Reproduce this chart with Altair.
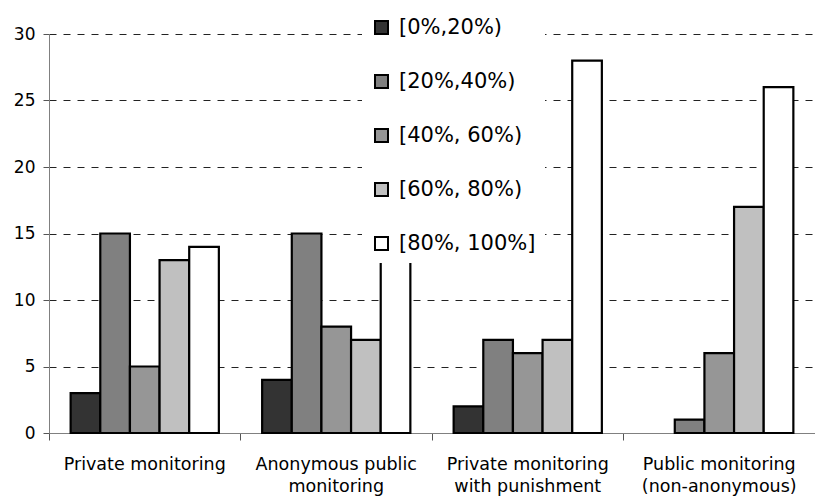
import altair as alt
import pandas as pd

categories = ["Private monitoring", "Anonymous public|monitoring",
              "Private monitoring|with punishment", "Public monitoring|(non-anonymous)"]
series = ["[0%,20%)", "[20%,40%)", "[40%, 60%)", "[60%, 80%)", "[80%, 100%]"]
colors = ["#333333", "#808080", "#969696", "#c0c0c0", "#ffffff"]

v_0_20 = [3, 4, 2, 0]
v_20_40 = [15, 15, 7, 1]
v_40_60 = [5, 8, 6, 6]
v_60_80 = [13, 7, 7, 17]
v_80_100 = [14, 16, 28, 26]

y_ticks = [0, 5, 10, 15, 20, 25, 30]

all_vals = [v_0_20, v_20_40, v_40_60, v_60_80, v_80_100]
rows = []
for s, vals in zip(series, all_vals):
    for c, v in zip(categories, vals):
        rows.append({"category": c, "series": s, "value": v})
df = pd.DataFrame(rows)

FONT = "DejaVu Sans"

bars = alt.Chart(df).transform_filter("datum.value > 0").mark_bar(
    stroke="black", strokeWidth=2.2
).encode(
    x=alt.X("category:N", sort=categories,
            scale=alt.Scale(paddingInner=0, paddingOuter=0),
            axis=alt.Axis(title=None, labelAngle=0, bandPosition=0,
                          labelExpr="split(datum.label, '|')",
                          labelFont=FONT, labelFontSize=17.5, labelColor="black",
                          labelLineHeight=22, labelPadding=15,
                          tickSize=7, tickColor="#555555", domainColor="#808080",
                          labelBaseline="top")),
    xOffset=alt.XOffset("series:N", sort=series,
                        scale=alt.Scale(domain=series, paddingInner=0, paddingOuter=0.73)),
    y=alt.Y("value:Q", scale=alt.Scale(domain=[0, 30], nice=False),
            axis=alt.Axis(title=None, values=y_ticks, labelFont=FONT, labelFontSize=17,
                          labelColor="black", tickSize=6, tickColor="#555555",
                          domainColor="#808080", labelPadding=8,
                          grid=True, gridColor="#222222", gridDash=[7, 7], gridWidth=1)),
    fill=alt.Fill("series:N", sort=series,
                  scale=alt.Scale(domain=series, range=colors),
                  legend=alt.Legend(orient="none", legendX=313, legendY=-26,
                                    fillColor="white", padding=9, rowPadding=32,
                                    title=None, labelFont=FONT, labelFontSize=21,
                                    labelColor="black", labelOffset=7,
                                    symbolType="square", symbolSize=169,
                                    symbolStrokeColor="black", symbolStrokeWidth=2,
                                    symbolOpacity=1)),
)

chart = bars.properties(
    width=766, height=399,
    padding={"left": 5, "top": 0, "right": 0, "bottom": 6}
).configure_view(stroke=None).configure_axis(gridOpacity=1)

chart.save("out.html", embed_options={"renderer": "svg", "actions": False})
